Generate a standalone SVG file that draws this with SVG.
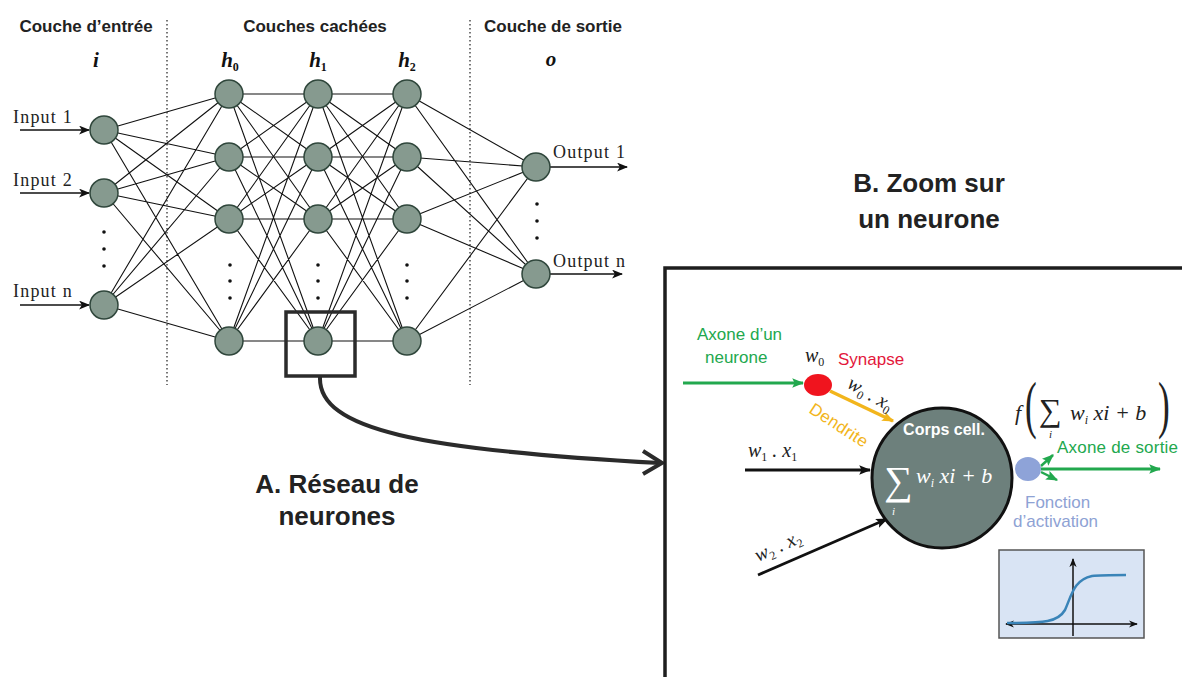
<svg xmlns="http://www.w3.org/2000/svg" width="1182" height="677" viewBox="0 0 1182 677">
<style>
.hdr{font-family:"Liberation Sans",Arial,sans-serif;font-weight:bold;font-size:17px;fill:#222;text-anchor:middle}
.lay{font-family:"Liberation Serif","Times New Roman",serif;font-weight:bold;font-style:italic;font-size:21px;fill:#111;text-anchor:middle}
.io{font-family:"Liberation Serif","Times New Roman",serif;font-size:18px;fill:#222;letter-spacing:1.2px}
.nd{fill:#869a8f;stroke:#2f463b;stroke-width:1.5}
.net{stroke:#111;stroke-width:1.1;fill:none}
.dot{fill:#111}
.big{font-family:"Liberation Sans",Arial,sans-serif;font-weight:bold;font-size:26px;fill:#222;text-anchor:middle}
.lbl{font-family:"Liberation Sans",Arial,sans-serif;font-size:17px}
.math{font-family:"Liberation Serif","Times New Roman",serif;font-style:italic;font-size:20px;fill:#222}
.sub{font-size:12px;font-style:normal}
.dash{stroke:#555;stroke-width:1.6;stroke-dasharray:1.5 2.5;fill:none}
</style>
<defs>
<marker id="ak" viewBox="0 0 10 8" refX="9" refY="4" markerWidth="11" markerHeight="9" markerUnits="userSpaceOnUse" orient="auto"><path d="M0 0L10 4L0 8L2.5 4Z" fill="#111"/></marker>
<marker id="ak2" viewBox="0 0 10 8" refX="9" refY="4" markerWidth="12" markerHeight="10" markerUnits="userSpaceOnUse" orient="auto"><path d="M0 0L10 4L0 8L2 4Z" fill="#111"/></marker>
<marker id="ag" viewBox="0 0 10 8" refX="9" refY="4" markerWidth="12" markerHeight="10" markerUnits="userSpaceOnUse" orient="auto"><path d="M0 0L10 4L0 8L2 4Z" fill="#22a84e"/></marker>
<marker id="ao" viewBox="0 0 10 8" refX="9" refY="4" markerWidth="12" markerHeight="10" markerUnits="userSpaceOnUse" orient="auto"><path d="M0 0L10 4L0 8L2 4Z" fill="#f2b51c"/></marker>
<marker id="as" viewBox="0 0 10 8" refX="9" refY="4" markerWidth="9" markerHeight="8" markerUnits="userSpaceOnUse" orient="auto-start-reverse"><path d="M0 0L10 4L0 8L3 4Z" fill="#111"/></marker>
</defs>
<rect width="1182" height="677" fill="#fff"/>

<!-- headers -->
<text class="hdr" x="86" y="32">Couche d’entrée</text>
<text class="hdr" x="315" y="32">Couches cachées</text>
<text class="hdr" x="553" y="32">Couche de sortie</text>
<text class="lay" x="96" y="67">i</text>
<text class="lay" x="230" y="67">h<tspan class="sub" dy="4">0</tspan></text>
<text class="lay" x="318" y="67">h<tspan class="sub" dy="4">1</tspan></text>
<text class="lay" x="407" y="67">h<tspan class="sub" dy="4">2</tspan></text>
<text class="lay" x="551" y="66">o</text>

<path class="dash" d="M167 20V385M470 20V385"/>

<g id="connectors">
<path class="net" d="M104 130L229 94M104 130L229 157M104 130L229 219M104 130L229 341M104 193L229 94M104 193L229 157M104 193L229 219M104 193L229 341M104 305L229 94M104 305L229 157M104 305L229 219M104 305L229 341
M229 94L318 94M229 94L318 157M229 94L318 219M229 94L318 341M229 157L318 94M229 157L318 157M229 157L318 219M229 157L318 341M229 219L318 94M229 219L318 157M229 219L318 219M229 219L318 341M229 341L318 94M229 341L318 157M229 341L318 219M229 341L318 341
M318 94L407 94M318 94L407 157M318 94L407 219M318 94L407 341M318 157L407 94M318 157L407 157M318 157L407 219M318 157L407 341M318 219L407 94M318 219L407 157M318 219L407 219M318 219L407 341M318 341L407 94M318 341L407 157M318 341L407 219M318 341L407 341
M407 94L536 167M407 94L536 274M407 157L536 167M407 157L536 274M407 219L536 167M407 219L536 274M407 341L536 167M407 341L536 274"/>
<path d="M20 130H89" stroke="#111" stroke-width="1.5" marker-end="url(#ak)"/>
<path d="M20 193H89" stroke="#111" stroke-width="1.5" marker-end="url(#ak)"/>
<path d="M20 305H89" stroke="#111" stroke-width="1.5" marker-end="url(#ak)"/>
<path d="M550 167H627" stroke="#111" stroke-width="1.5" marker-end="url(#ak)"/>
<path d="M550 274H622" stroke="#111" stroke-width="1.5" marker-end="url(#ak)"/>
<!-- zoom arrow -->
<path d="M320 377C318 430 420 450 660 463" stroke="#2b2b2b" stroke-width="4" fill="none"/>
<path d="M643 451L662 463L643 474" stroke="#2b2b2b" stroke-width="4" fill="none" stroke-linejoin="miter"/>
<!-- panel arrows -->
<path d="M683 383H803" stroke="#22a84e" stroke-width="3" marker-end="url(#ag)"/>
<path d="M830 391L893 421" stroke="#f2b51c" stroke-width="3.5" marker-end="url(#ao)"/>
<path d="M745 470H870" stroke="#111" stroke-width="2.8" marker-end="url(#ak2)"/>
<path d="M758 575L887 519" stroke="#111" stroke-width="2.8" marker-end="url(#ak2)"/>
<path d="M1041 469H1160" stroke="#22a84e" stroke-width="3" marker-end="url(#ag)"/>
<path d="M1041 466L1053 455" stroke="#22a84e" stroke-width="2.5" marker-end="url(#ag)"/>
<path d="M1041 472L1057 480" stroke="#22a84e" stroke-width="2.5" marker-end="url(#ag)"/>
</g>

<text class="io" x="13" y="123">Input 1</text>
<text class="io" x="13" y="186">Input 2</text>
<text class="io" x="13" y="297">Input n</text>
<text class="io" x="553" y="158">Output 1</text>
<text class="io" x="553" y="267">Output n</text>

<g id="i0"><circle class="nd" cx="104" cy="130" r="14"/></g>
<g id="i1"><circle class="nd" cx="104" cy="193" r="14"/></g>
<g id="i2"><circle class="nd" cx="104" cy="305" r="14"/></g>
<g id="h0a"><circle class="nd" cx="229" cy="94" r="14"/></g>
<g id="h0b"><circle class="nd" cx="229" cy="157" r="14"/></g>
<g id="h0c"><circle class="nd" cx="229" cy="219" r="14"/></g>
<g id="h0d"><circle class="nd" cx="229" cy="341" r="14"/></g>
<g id="h1a"><circle class="nd" cx="318" cy="94" r="14"/></g>
<g id="h1b"><circle class="nd" cx="318" cy="157" r="14"/></g>
<g id="h1c"><circle class="nd" cx="318" cy="219" r="14"/></g>
<g id="h1d"><circle class="nd" cx="318" cy="341" r="14"/></g>
<g id="h2a"><circle class="nd" cx="407" cy="94" r="14"/></g>
<g id="h2b"><circle class="nd" cx="407" cy="157" r="14"/></g>
<g id="h2c"><circle class="nd" cx="407" cy="219" r="14"/></g>
<g id="h2d"><circle class="nd" cx="407" cy="341" r="14"/></g>
<g id="o0"><circle class="nd" cx="536" cy="167" r="14"/></g>
<g id="o1"><circle class="nd" cx="536" cy="274" r="14"/></g>

<g id="dots">
<circle class="dot" cx="104" cy="232" r="1.8"/><circle class="dot" cx="104" cy="249" r="1.8"/><circle class="dot" cx="104" cy="266" r="1.8"/>
<circle class="dot" cx="230" cy="265" r="1.8"/><circle class="dot" cx="230" cy="281" r="1.8"/><circle class="dot" cx="230" cy="298" r="1.8"/>
<circle class="dot" cx="318" cy="265" r="1.8"/><circle class="dot" cx="318" cy="281" r="1.8"/><circle class="dot" cx="318" cy="298" r="1.8"/>
<circle class="dot" cx="407" cy="265" r="1.8"/><circle class="dot" cx="407" cy="281" r="1.8"/><circle class="dot" cx="407" cy="298" r="1.8"/>
<circle class="dot" cx="537" cy="204" r="1.8"/><circle class="dot" cx="537" cy="221" r="1.8"/><circle class="dot" cx="537" cy="238" r="1.8"/>
</g>

<g id="highlight"><rect x="286" y="312" width="69" height="64" fill="none" stroke="#2b2b2b" stroke-width="3.5"/></g>

<text class="big" x="337" y="493">A. Réseau de</text>
<text class="big" x="337" y="525">neurones</text>
<text class="big" x="929" y="192">B. Zoom sur</text>
<text class="big" x="929" y="228">un neurone</text>

<g id="panel"><rect x="665" y="268" width="600" height="500" fill="none" stroke="#1e1e1e" stroke-width="3.5"/></g>

<text class="lbl" x="697" y="340" fill="#22a84e">Axone d’un</text>
<text class="lbl" x="705" y="363" fill="#22a84e">neurone</text>

<g id="synapse"><ellipse cx="818" cy="385" rx="14" ry="11" fill="#f0141e"/></g>
<text class="math" x="805" y="362">w<tspan class="sub" dy="4">0</tspan></text>
<text class="lbl" x="838" y="365" fill="#e3173b">Synapse</text>
<text class="math" font-size="18" transform="translate(846,387) rotate(30)">w<tspan class="sub" dy="4">0</tspan><tspan dy="-4"> . x</tspan><tspan class="sub" dy="4">0</tspan></text>
<text class="lbl" fill="#f2b51c" font-size="16" textLength="66" transform="translate(808,412) rotate(33)">Dendrite</text>

<text class="math" x="748" y="457">w<tspan class="sub" dy="4">1</tspan><tspan dy="-4"> . x</tspan><tspan class="sub" dy="4">1</tspan></text>
<text class="math" transform="translate(758,562) rotate(-24)">w<tspan class="sub" dy="4">2</tspan><tspan dy="-4"> . x</tspan><tspan class="sub" dy="4">2</tspan></text>

<g id="cell">
<circle cx="942" cy="478" r="70" fill="#6d807c" stroke="#111" stroke-width="3"/>
<text x="944" y="435" font-family="Liberation Sans,Arial,sans-serif" font-weight="bold" font-size="16" fill="#fff" text-anchor="middle">Corps cell.</text>
<text x="884" y="494" font-family="Liberation Serif,serif" font-size="40" fill="#fff">∑</text>
<text x="892" y="515" font-family="Liberation Serif,serif" font-style="italic" font-size="11" fill="#fff">i</text>
<text x="916" y="483" font-family="Liberation Serif,serif" font-style="italic" font-size="22" fill="#fff">w<tspan font-size="12" dy="4">i</tspan><tspan dy="-4"> xi + b</tspan></text>
</g>

<g id="activation"><ellipse cx="1028" cy="469" rx="13" ry="12" fill="#8ea3d8"/></g>
<text class="lbl" x="1057" y="453" fill="#22a84e" textLength="121">Axone de sortie</text>
<text class="lbl" x="1025" y="508" fill="#8ea2d4">Fonction</text>
<text class="lbl" x="1013" y="527" fill="#8ea2d4">d’activation</text>

<g id="formula" font-family="Liberation Serif,serif" fill="#222">
<text x="1015" y="420" font-style="italic" font-size="22">f</text>
<text font-size="64" transform="translate(1025,426) scale(0.55,1)">(</text>
<text x="1039" y="421" font-size="32">∑</text>
<text x="1049" y="438" font-style="italic" font-size="11">i</text>
<text x="1070" y="420" font-style="italic" font-size="22">w<tspan font-size="12" dy="4">i</tspan><tspan dy="-4"> xi + b</tspan></text>
<text font-size="64" transform="translate(1158,426) scale(0.55,1)">)</text>
</g>

<g id="sigmoid">
<rect x="999" y="550" width="145" height="88" fill="#d9e4f4" stroke="#555" stroke-width="1.5"/>
<path d="M1073 636V559" stroke="#111" stroke-width="1.5" marker-end="url(#as)"/>
<path d="M1006 624H1137" stroke="#111" stroke-width="1.5" marker-start="url(#as)" marker-end="url(#as)"/>
<path d="M1007 623C1045 623 1058 622 1065 610C1072 594 1074 580 1092 576C1100 575 1110 575 1126 575" stroke="#3a84b8" stroke-width="2.5" fill="none"/>
</g>
</svg>
